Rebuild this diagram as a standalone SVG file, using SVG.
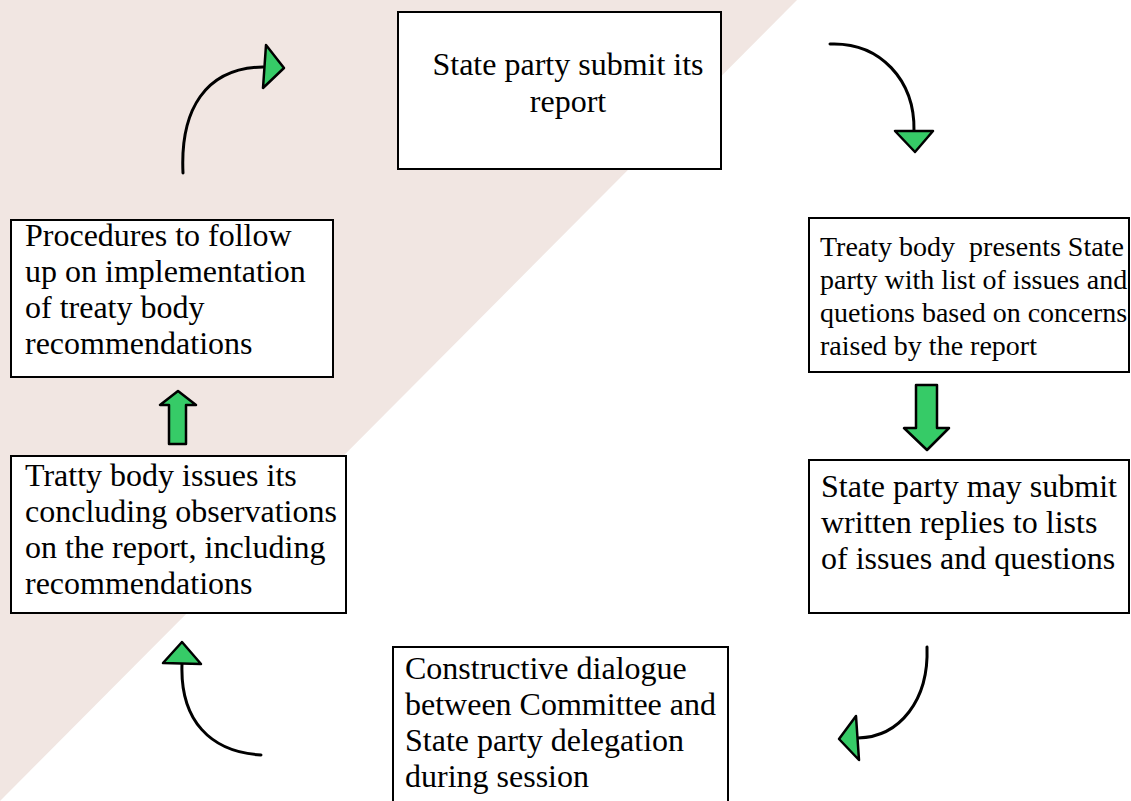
<svg xmlns="http://www.w3.org/2000/svg" width="1131" height="801" viewBox="0 0 1131 801">
  <style>
    .box { fill: #ffffff; stroke: #000000; stroke-width: 2; }
    .label { font-family: "Liberation Serif", "Times New Roman", serif; font-size: 32px; fill: #000000; }
    .small { font-size: 28px; }
    .curve { fill: none; stroke: #000000; stroke-width: 3; stroke-linecap: round; }
    .head { fill: #36cb67; stroke: #000000; stroke-width: 2.5; stroke-linejoin: round; }
  </style>

  <!-- background split -->
  <rect x="0" y="0" width="1131" height="801" fill="#ffffff"/>
  <polygon points="0,0 797,0 0,801" fill="#f1e6e2"/>

  <!-- connectors -->
  <g id="connectors">
    <!-- report -> list of issues -->
    <path class="curve" d="M830,44 C880,42 915,80 914,131"/>
    <polygon class="head" points="895,131 933,131 915,152"/>
    <!-- list of issues -> written replies -->
    <polygon class="head" points="916,385 937,385 937,428 949,428 927,450 904,428 916,428"/>
    <!-- written replies -> dialogue -->
    <path class="curve" d="M927,647 C929,700 900,737 858,738"/>
    <polygon class="head" points="856,716 839,739 859,760"/>
    <!-- dialogue -> concluding observations -->
    <path class="curve" d="M261,755 C210,752 180,720 182,664"/>
    <polygon class="head" points="182,642 163,663 201,664"/>
    <!-- concluding observations -> follow-up -->
    <polygon class="head" points="169,444 186,444 186,405 196,405 178,391 160,405 169,405"/>
    <!-- follow-up -> report -->
    <path class="curve" d="M183,173 C180,110 205,68 263,67"/>
    <polygon class="head" points="266,45 284,68 263,88"/>
  </g>

  <g id="node-submit">
    <rect class="box" x="398" y="12" width="323" height="157"/>
    <text class="label" text-anchor="middle" x="568" y="75">State party submit its</text>
    <text class="label" text-anchor="middle" x="568" y="112">report</text>
  </g>

  <g id="node-list-of-issues">
    <rect class="box" x="809" y="218" width="320" height="154"/>
    <text class="label small" x="820" y="256" xml:space="preserve">Treaty body  presents State</text>
    <text class="label small" x="820" y="289">party with list of issues and</text>
    <text class="label small" x="820" y="322">quetions based on concerns</text>
    <text class="label small" x="820" y="355">raised by the report</text>
  </g>

  <g id="node-written-replies">
    <rect class="box" x="809" y="460" width="320" height="153"/>
    <text class="label" x="821" y="497">State party may submit</text>
    <text class="label" x="821" y="533">written replies to lists</text>
    <text class="label" x="821" y="569">of issues and questions</text>
  </g>

  <g id="node-dialogue">
    <rect class="box" x="393" y="647" width="335" height="160"/>
    <text class="label" x="405" y="679">Constructive dialogue</text>
    <text class="label" x="405" y="715">between Committee and</text>
    <text class="label" x="405" y="751">State party delegation</text>
    <text class="label" x="405" y="787">during session</text>
  </g>

  <g id="node-concluding-observations">
    <rect class="box" x="11" y="456" width="335" height="157"/>
    <text class="label" x="25" y="486">Tratty body issues its</text>
    <text class="label" x="25" y="522">concluding observations</text>
    <text class="label" x="25" y="558">on the report, including</text>
    <text class="label" x="25" y="594">recommendations</text>
  </g>

  <g id="node-follow-up">
    <rect class="box" x="11" y="220" width="322" height="157"/>
    <text class="label" x="25" y="246">Procedures to follow</text>
    <text class="label" x="25" y="282">up on implementation</text>
    <text class="label" x="25" y="318">of treaty body</text>
    <text class="label" x="25" y="354">recommendations</text>
  </g>
</svg>
